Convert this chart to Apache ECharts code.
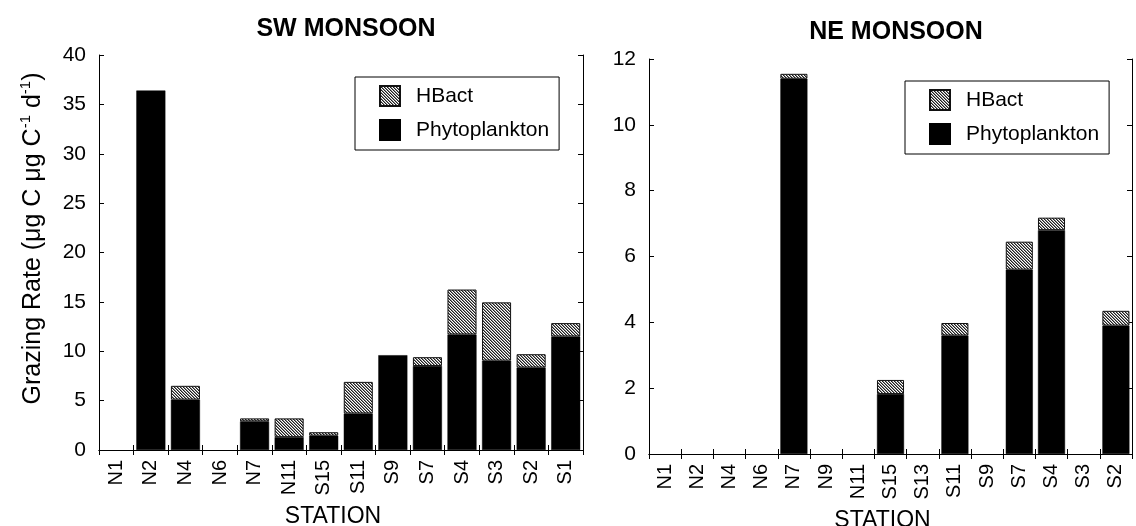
<!DOCTYPE html>
<html>
<head>
<meta charset="utf-8">
<script src="https://cdn.jsdelivr.net/npm/echarts@6/dist/echarts.min.js"></script>
<style>
  html, body { margin: 0; padding: 0; background: #fff; }
  #chart { width: 1136px; height: 526px; }
</style>
</head>
<body>
<div id="chart"></div>
<script>
// SW monsoon stations and grazing rates (µg C µg C-1 d-1)
const stationsSW = ['N1', 'N2', 'N4', 'N6', 'N7', 'N11', 'S15', 'S11', 'S9', 'S7', 'S4', 'S3', 'S2', 'S1'];
const phytoSW = [0, 36.4, 5.1, 0, 2.9, 1.3, 1.45, 3.7, 9.6, 8.5, 11.7, 9.05, 8.35, 11.5];
const hbactSW = [0, 0, 1.4, 0, 0.3, 1.9, 0.35, 3.2, 0, 0.9, 4.55, 5.9, 1.35, 1.35];
const yTicksSW = [0, 5, 10, 15, 20, 25, 30, 35, 40];

// NE monsoon stations and grazing rates
const stationsNE = ['N1', 'N2', 'N4', 'N6', 'N7', 'N9', 'N11', 'S15', 'S13', 'S11', 'S9', 'S7', 'S4', 'S3', 'S2'];
const phytoNE = [0, 0, 0, 0, 11.4, 0, 0, 1.82, 0, 3.6, 0, 5.6, 6.8, 0, 3.9];
const hbactNE = [0, 0, 0, 0, 0.15, 0, 0, 0.43, 0, 0.38, 0, 0.85, 0.38, 0, 0.45];
const yTicksNE = [0, 2, 4, 6, 8, 10, 12];

const FONT = '"Liberation Sans", Arial, Helvetica, sans-serif';

// diagonal hatch tile for the bacterial grazing fraction
function hatchTile() {
  const n = 3;
  const c = document.createElement('canvas');
  c.width = n; c.height = n;
  const g = c.getContext('2d');
  g.fillStyle = '#ffffff';
  g.fillRect(0, 0, n, n);
  for (let i = 0; i < n; i++) {
    g.fillStyle = '#1e1e1e';
    g.fillRect(i, i, 1, 1);
    g.fillStyle = '#8a8a8a';
    g.fillRect((i + 1) % n, i, 1, 1);
  }
  return c;
}
const hatch = { image: hatchTile(), repeat: 'repeat' };

const nz = arr => arr.map(v => (v === 0 ? null : v));

function yRange(ticks) {
  return { min: ticks[0], max: ticks[ticks.length - 1], interval: ticks[1] - ticks[0] };
}

const axisLine = { show: true, lineStyle: { color: '#000', width: 1 } };
const tick = { show: true, inside: true, length: 5, lineStyle: { color: '#000', width: 1 } };

function xAxes(data, grid) {
  return [
    {
      type: 'category', gridIndex: grid, data: data, position: 'bottom',
      axisLine: axisLine, axisTick: Object.assign({ interval: 0 }, tick),
      axisLabel: { rotate: 90, interval: 0, margin: 10, fontSize: 20, color: '#000', fontFamily: FONT },
      name: 'STATION', nameLocation: 'middle', nameGap: 55,
      nameTextStyle: { fontSize: 23, color: '#000', fontFamily: FONT, padding: [0, 16, 0, 0] }
    },
    {
      type: 'category', gridIndex: grid, data: data, position: 'top',
      axisLine: axisLine, axisTick: Object.assign({ interval: 0 }, tick),
      axisLabel: { show: false }
    }
  ];
}

function yAxes(ticks, grid, withName) {
  const r = yRange(ticks);
  const left = {
    type: 'value', gridIndex: grid, position: 'left', min: r.min, max: r.max, interval: r.interval,
    splitLine: { show: false }, axisLine: axisLine, axisTick: tick,
    axisLabel: { margin: 13, fontSize: 21, color: '#000', fontFamily: FONT }
  };
  if (withName) {
    left.name = '{a|Grazing Rate (μg C μg C}{s|-1}{a| d}{s|-1}{a|)}';
    left.nameLocation = 'middle';
    left.nameGap = 51;
    left.nameTextStyle = {
      padding: [0, 0, 0, 28],
      rich: {
        a: { fontSize: 25, color: '#000', fontFamily: FONT, lineHeight: 30 },
        s: { fontSize: 15, color: '#000', fontFamily: FONT, lineHeight: 18, verticalAlign: 'top' }
      }
    };
  }
  const right = {
    type: 'value', gridIndex: grid, position: 'right', min: r.min, max: r.max, interval: r.interval,
    splitLine: { show: false }, axisLine: axisLine, axisTick: tick, axisLabel: { show: false }
  };
  return [left, right];
}

function barSeries(phyto, hbact, xi, yi, stack) {
  return [
    {
      name: 'Phytoplankton', type: 'bar', stack: stack, xAxisIndex: xi, yAxisIndex: yi,
      data: nz(phyto), barCategoryGap: '16%',
      itemStyle: { color: '#000', borderColor: '#000', borderWidth: 0.5 }
    },
    {
      name: 'HBact', type: 'bar', stack: stack, xAxisIndex: xi, yAxisIndex: yi,
      data: nz(hbact), barCategoryGap: '16%',
      itemStyle: { color: hatch, borderColor: '#111', borderWidth: 1 }
    }
  ];
}

function legendAt(left, top) {
  return {
    data: ['HBact', 'Phytoplankton'], orient: 'vertical', left: left, top: top,
    padding: [8, 10, 9, 24], itemGap: 12, itemWidth: 20, itemHeight: 20,
    borderColor: '#000', borderWidth: 1, backgroundColor: '#fff',
    icon: 'rect', selectedMode: false,
    textStyle: { fontSize: 21, color: '#000', fontFamily: FONT, padding: [0, 0, 0, 11] }
  };
}

const chart = echarts.init(document.getElementById('chart'), null, { renderer: 'canvas' });
chart.setOption({
  animation: false,
  backgroundColor: '#fff',
  title: [
    { text: 'SW MONSOON', left: 341, top: 12, textAlign: 'center',
      textStyle: { fontSize: 25, fontWeight: 'bold', color: '#000', fontFamily: FONT } },
    { text: 'NE MONSOON', left: 891, top: 15, textAlign: 'center',
      textStyle: { fontSize: 25, fontWeight: 'bold', color: '#000', fontFamily: FONT } }
  ],
  legend: [legendAt(355, 77), legendAt(905, 81)],
  grid: [
    { left: 99, top: 55, width: 484, height: 395, containLabel: false, outerBoundsMode: 'none' },
    { left: 649, top: 59, width: 483, height: 395, containLabel: false, outerBoundsMode: 'none' }
  ],
  xAxis: [].concat(xAxes(stationsSW, 0), xAxes(stationsNE, 1)),
  yAxis: [].concat(yAxes(yTicksSW, 0, true), yAxes(yTicksNE, 1, false)),
  series: [].concat(
    barSeries(phytoSW, hbactSW, 0, 0, 'sw'),
    barSeries(phytoNE, hbactNE, 2, 2, 'ne')
  )
});
</script>
</body>
</html>
